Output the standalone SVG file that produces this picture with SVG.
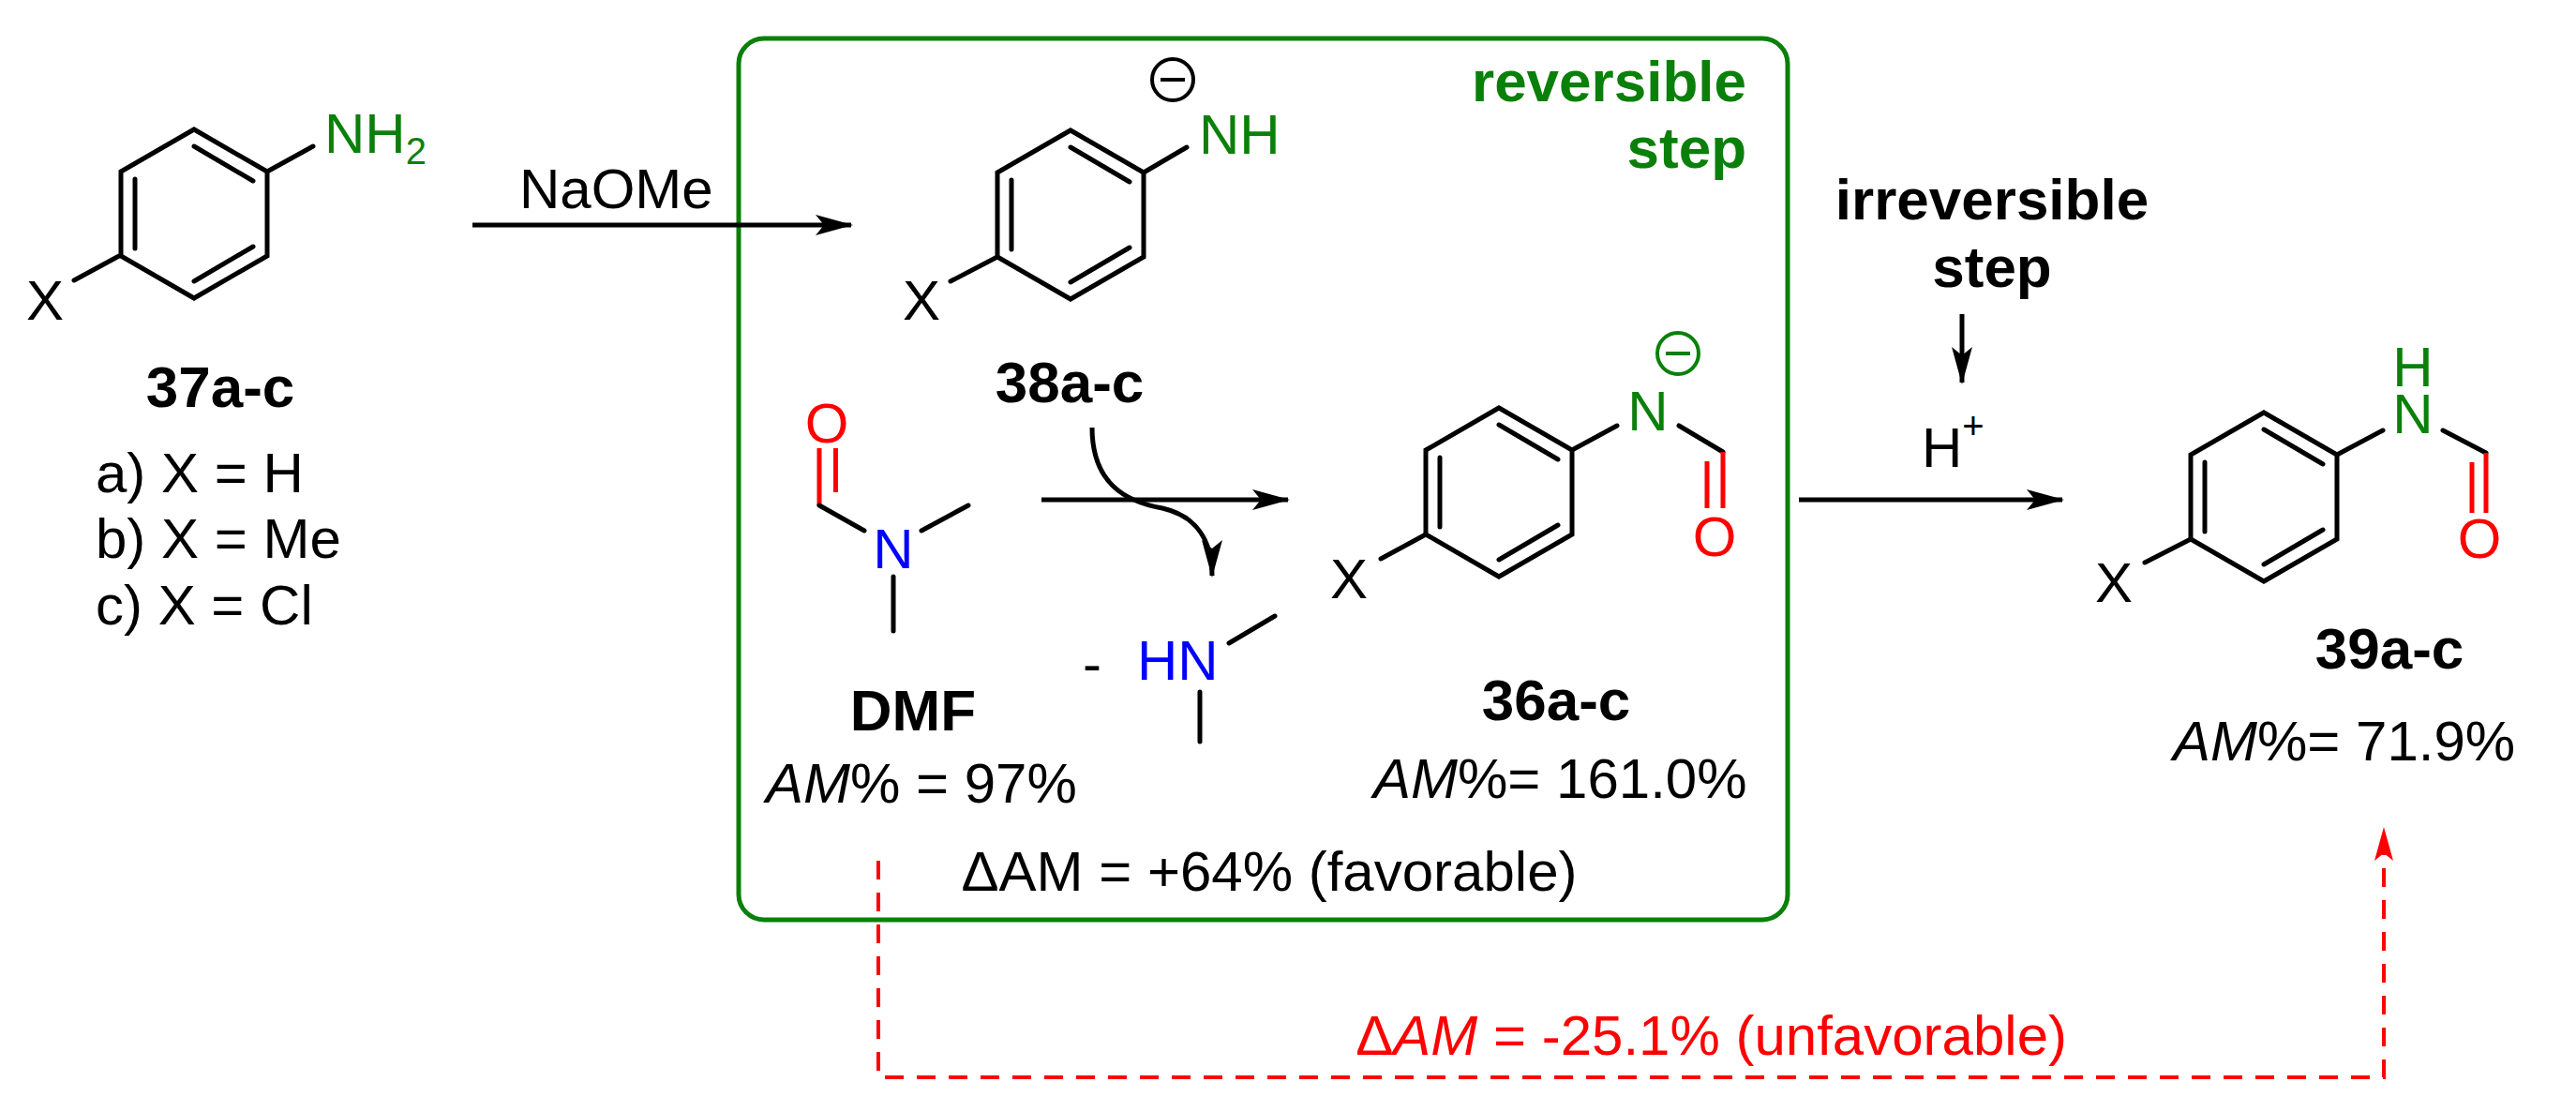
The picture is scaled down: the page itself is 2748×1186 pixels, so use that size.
<svg xmlns="http://www.w3.org/2000/svg" width="2748" height="1186" viewBox="0 0 2748 1186">
<defs>
<style>
text{font-family:"Liberation Sans",Arial,sans-serif;font-size:60px;fill:#000}
.b{font-weight:bold;font-size:62px}
.g{fill:#0a800a}.r{fill:#f00}.bl{fill:#0000ff}
.bond{stroke:#000;stroke-width:5;fill:none;stroke-linecap:round}
.rb{stroke:#f00;stroke-width:5;fill:none}
.arr{stroke:#000;stroke-width:5;fill:none}
.sub{font-size:40px}
</style>
<marker id="ah" markerWidth="40" markerHeight="22" refX="38" refY="11" orient="auto" markerUnits="userSpaceOnUse"><path d="M0,0 L40,11 L0,22 L9,11 Z" fill="#000"/></marker>
<marker id="ahr" markerWidth="36" markerHeight="20" refX="34" refY="10" orient="auto" markerUnits="userSpaceOnUse"><path d="M0,0 L36,10 L0,20 L8,10 Z" fill="#f00"/></marker>
<g id="ring"><path class="bond" d="M0,-90 L78,-45 L78,45 L0,90 L-78,45 L-78,-45 Z"/><path class="bond" d="M-63,-37 L-63,37 M0,-72 L63,-35 M0,72 L63,35"/></g>
</defs>
<rect width="2748" height="1186" fill="#fff"/>
<g id="connectors">
<rect x="788" y="41" width="1119" height="940" rx="27" fill="none" stroke="#0a800a" stroke-width="5"/>
<line x1="504" y1="240" x2="908" y2="240" class="arr" marker-end="url(#ah)"/>
<line x1="1111" y1="533" x2="1374" y2="533" class="arr" marker-end="url(#ah)"/>
<path d="M1165,456 C1165,515 1200,535 1240,542 C1275,550 1293,575 1293,614" class="arr" marker-end="url(#ah)"/>
<line x1="1919" y1="533" x2="2200" y2="533" class="arr" marker-end="url(#ah)"/>
<line x1="2093" y1="335" x2="2093" y2="408" class="arr" marker-end="url(#ah)"/>
<path d="M937,918 L937,1149 L2543,1149 L2543,884" fill="none" stroke="#f00" stroke-width="4" stroke-dasharray="20,14" marker-end="url(#ahr)"/>
</g>
<g id="n37">
<use href="#ring" x="207" y="228"/>
<path class="bond" d="M285,183 L334,156 M127,273 L79,299"/>
<text x="346" y="163" class="g">NH<tspan class="sub" dy="12">2</tspan></text>
<text x="28" y="341">X</text>
<text x="235" y="434" class="b" text-anchor="middle">37a-c</text>
<text x="102" y="525">a) X = H</text>
<text x="102" y="595">b) X = Me</text>
<text x="102" y="666">c) X = Cl</text>
</g>
<text x="554" y="222">NaOMe</text>
<g id="box-label">
<text x="1863" y="108" class="b g" text-anchor="end">reversible</text>
<text x="1863" y="179" class="b g" text-anchor="end">step</text>
</g>
<g id="n38">
<use href="#ring" x="1142" y="229"/>
<path class="bond" d="M1220,184 L1266,157 M1064,274 L1014,300"/>
<text x="1279" y="164" class="g">NH</text>
<circle cx="1251" cy="85" r="22" fill="none" stroke="#000" stroke-width="4"/>
<line x1="1238" y1="85" x2="1264" y2="85" stroke="#000" stroke-width="4"/>
<text x="963" y="341">X</text>
<text x="1141" y="429" class="b" text-anchor="middle">38a-c</text>
</g>
<g id="dmf">
<text x="882" y="472" class="r" text-anchor="middle">O</text>
<path class="rb" d="M874,478 L874,539 M891.5,478 L891.5,525"/>
<path class="bond" d="M874,539 L922,566 M983,566 L1033,539 M953,615 L953,673"/>
<text x="953" y="606" class="bl" text-anchor="middle">N</text>
<text x="974" y="779" class="b" text-anchor="middle">DMF</text>
<text x="817" y="856"><tspan font-style="italic">AM</tspan>% = 97%</text>
</g>
<g id="hnme2">
<text x="1155" y="728">-</text>
<text x="1213" y="725" class="bl">HN</text>
<path class="bond" d="M1311,686 L1360,657 M1280,738 L1280,791"/>
</g>
<g id="n36">
<use href="#ring" x="1599" y="525"/>
<path class="bond" d="M1677,480 L1725,454 M1521,570 L1473,596 M1791,454 L1838,482"/>
<path class="rb" d="M1838,482 L1838,542 M1821,492 L1821,542"/>
<text x="1758" y="459" class="g" text-anchor="middle">N</text>
<circle cx="1790" cy="377" r="22" fill="none" stroke="#0a800a" stroke-width="4"/>
<line x1="1777" y1="377" x2="1803" y2="377" stroke="#0a800a" stroke-width="4"/>
<text x="1829" y="593" class="r" text-anchor="middle">O</text>
<text x="1419" y="638">X</text>
<text x="1660" y="768" class="b" text-anchor="middle">36a-c</text>
<text x="1465" y="851"><tspan font-style="italic">AM</tspan>%= 161.0%</text>
</g>
<text x="1354" y="950" text-anchor="middle">ΔAM = +64% (favorable)</text>
<g id="step2">
<text x="2125" y="234" class="b" text-anchor="middle">irreversible</text>
<text x="2125" y="306" class="b" text-anchor="middle">step</text>
<text x="2050" y="498">H<tspan class="sub" dy="-30">+</tspan></text>
</g>
<g id="n39">
<use href="#ring" x="2415" y="530"/>
<path class="bond" d="M2493,485 L2542,459 M2337,575 L2288,600 M2606,459 L2652,483"/>
<path class="rb" d="M2652,483 L2652,547 M2637,493 L2637,547"/>
<text x="2574" y="462" class="g" text-anchor="middle">N</text>
<text x="2574" y="412" class="g" text-anchor="middle">H</text>
<text x="2645" y="595" class="r" text-anchor="middle">O</text>
<text x="2235" y="642">X</text>
<text x="2549" y="713" class="b" text-anchor="middle">39a-c</text>
<text x="2318" y="811"><tspan font-style="italic">AM</tspan>%= 71.9%</text>
</g>
<text x="2205" y="1125" class="r" text-anchor="end">Δ<tspan font-style="italic">AM</tspan> = -25.1% (unfavorable)</text>
</svg>
